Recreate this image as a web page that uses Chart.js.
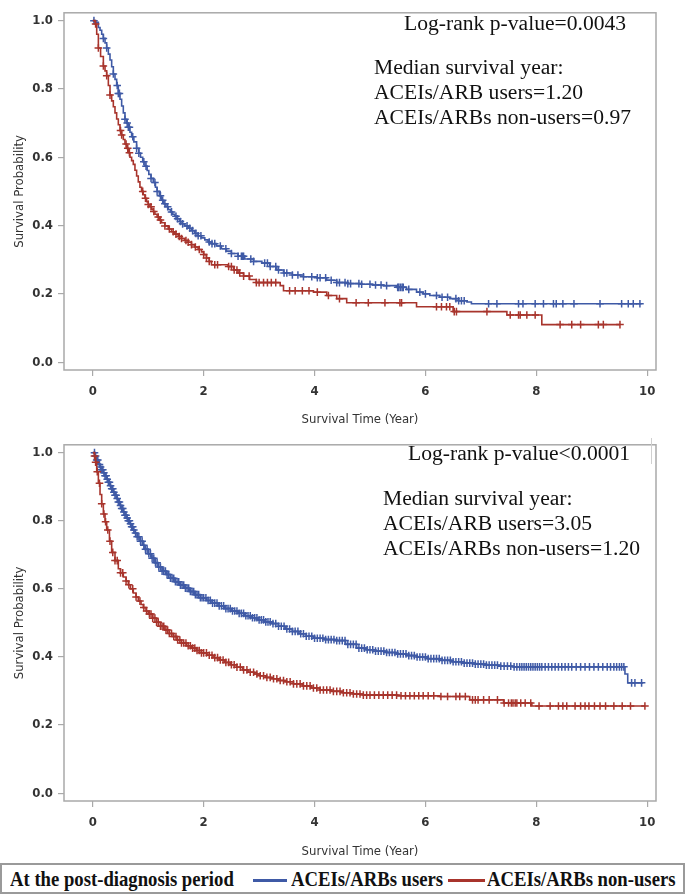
<!DOCTYPE html>
<html>
<head>
<meta charset="utf-8">
<script src="https://cdn.jsdelivr.net/npm/chart.js@4/dist/chart.umd.min.js"></script>
<style>
  html, body { margin:0; padding:0; background:#fff; }
  body { width:685px; height:895px; position:relative; overflow:hidden; }
  .cv { position:absolute; left:0; width:685px; }
  .note { position:absolute; font-family:"Liberation Serif","Times New Roman",serif; font-size:20px; line-height:25px; color:#111; white-space:nowrap; transform:scaleX(1.08); transform-origin:0 50%; }
  #legend { position:absolute; left:0; top:863px; width:685px; height:31px; box-sizing:border-box; border:2px solid #9a9a9a; background:#fff; }
  .lg { position:absolute; top:0px; font-family:"Liberation Serif","Times New Roman",serif; font-weight:bold; font-size:21px; line-height:29px; color:#111; white-space:nowrap; transform:scaleX(0.89); transform-origin:0 50%; }
  .sw { position:absolute; top:14px; height:3px; }
  #tick { position:absolute; left:651px; top:438px; width:1px; height:26px; background:#d0d0d0; }
</style>
</head>
<body>
<div class="cv" style="top:0;height:430px"><canvas id="c1" width="685" height="430"></canvas></div>
<div class="cv" style="top:432px;height:430px"><canvas id="c2" width="685" height="430"></canvas></div>

<div class="note" style="left:404px;top:11px">Log-rank p-value=0.0043</div>
<div class="note" style="left:374px;top:55px">Median survival year:</div>
<div class="note" style="left:374px;top:80px">ACEIs/ARB users=1.20</div>
<div class="note" style="left:374px;top:105px">ACEIs/ARBs non-users=0.97</div>

<div class="note" style="left:408px;top:441px">Log-rank p-value&lt;0.0001</div>
<div id="tick"></div>
<div class="note" style="left:383px;top:486px">Median survival year:</div>
<div class="note" style="left:383px;top:511px">ACEIs/ARB users=3.05</div>
<div class="note" style="left:383px;top:536px">ACEIs/ARBs non-users=1.20</div>

<div id="legend">
  <div class="lg" style="left:8px">At the post-diagnosis period</div>
  <div class="sw" style="left:251px;width:34px;background:#3F5AA6"></div>
  <div class="lg" style="left:289px">ACEIs/ARBs users</div>
  <div class="sw" style="left:446px;width:37px;background:#A8342C"></div>
  <div class="lg" style="left:485px">ACEIs/ARBs non-users</div>
</div>

<script>
// ---------- data ----------
const xTicks = [0, 2, 4, 6, 8, 10];
const yTicks = [0.0, 0.2, 0.4, 0.6, 0.8, 1.0];
const seriesNames = ["ACEIs/ARBs users", "ACEIs/ARBs non-users"];

// Top panel: users (blue) - event times and survival estimates
const topUsersT = [0, 0.05, 0.10, 0.13, 0.16, 0.19, 0.22, 0.25, 0.28, 0.31, 0.34, 0.37, 0.40, 0.43, 0.46, 0.49, 0.52, 0.55, 0.58, 0.61, 0.64, 0.67, 0.70, 0.74, 0.79, 0.83, 0.86, 0.90, 0.94, 0.98, 1.01, 1.05, 1.09, 1.13, 1.16, 1.20, 1.24, 1.28, 1.32, 1.36, 1.40, 1.44, 1.48, 1.52, 1.57, 1.61, 1.66, 1.72, 1.78, 1.84, 1.90, 1.96, 2.02, 2.08, 2.14, 2.23, 2.32, 2.41, 2.50, 2.62, 2.74, 2.90, 3.05, 3.19, 3.32, 3.44, 3.60, 3.80, 4.04, 4.22, 4.40, 4.60, 4.82, 5.04, 5.24, 5.48, 5.66, 5.84, 5.96, 6.08, 6.26, 6.44, 6.60, 6.75, 6.83, 9.90];
const topUsersS = [1.0, 0.995, 0.98, 0.972, 0.96, 0.948, 0.935, 0.92, 0.902, 0.885, 0.865, 0.844, 0.828, 0.81, 0.787, 0.77, 0.75, 0.73, 0.711, 0.70, 0.688, 0.673, 0.66, 0.645, 0.626, 0.612, 0.60, 0.587, 0.574, 0.561, 0.55, 0.538, 0.526, 0.512, 0.50, 0.487, 0.474, 0.464, 0.455, 0.447, 0.44, 0.433, 0.427, 0.42, 0.412, 0.405, 0.399, 0.392, 0.385, 0.377, 0.37, 0.364, 0.358, 0.352, 0.347, 0.34, 0.332, 0.325, 0.318, 0.31, 0.302, 0.295, 0.29, 0.28, 0.27, 0.261, 0.255, 0.25, 0.247, 0.24, 0.233, 0.23, 0.228, 0.226, 0.224, 0.219, 0.213, 0.205, 0.2, 0.195, 0.19, 0.186, 0.18, 0.176, 0.171, 0.171];
const topUsersCensor = [0.02, 0.19, 0.25, 0.37, 0.44, 0.46, 0.48, 0.58, 0.62, 0.64, 0.66, 0.72, 0.79, 0.83, 0.92, 0.96, 1.05, 1.12, 1.16, 1.22, 1.26, 1.30, 1.35, 1.42, 1.50, 1.53, 1.58, 1.62, 1.70, 1.75, 1.80, 1.86, 1.90, 1.95, 2.10, 2.15, 2.20, 2.30, 2.40, 2.50, 2.62, 2.68, 2.70, 2.72, 2.85, 2.90, 3.10, 3.15, 3.20, 3.30, 3.35, 3.45, 3.50, 3.60, 3.70, 3.80, 3.95, 4.05, 4.10, 4.20, 4.30, 4.40, 4.45, 4.55, 4.60, 4.65, 4.80, 4.85, 5.00, 5.10, 5.20, 5.30, 5.50, 5.52, 5.55, 5.58, 5.60, 5.70, 5.90, 6.00, 6.20, 6.30, 6.40, 6.55, 6.60, 6.65, 6.70, 7.14, 7.29, 7.68, 7.76, 7.98, 8.13, 8.31, 8.36, 8.48, 8.68, 9.15, 9.54, 9.66, 9.75, 9.87];

// Top panel: non-users (red)
const topNonT = [0, 0.04, 0.07, 0.10, 0.14, 0.19, 0.22, 0.25, 0.28, 0.31, 0.34, 0.37, 0.40, 0.43, 0.46, 0.49, 0.52, 0.55, 0.58, 0.61, 0.64, 0.67, 0.70, 0.73, 0.76, 0.79, 0.82, 0.85, 0.88, 0.91, 0.94, 0.97, 1.00, 1.03, 1.06, 1.09, 1.12, 1.16, 1.20, 1.24, 1.30, 1.36, 1.42, 1.48, 1.54, 1.60, 1.66, 1.72, 1.78, 1.84, 1.90, 1.96, 2.00, 2.05, 2.10, 2.14, 2.44, 2.54, 2.62, 2.72, 2.83, 2.95, 3.38, 3.44, 3.98, 4.22, 4.40, 4.58, 5.84, 6.50, 7.47, 8.10, 9.51];
const topNonS = [1.0, 0.99, 0.96, 0.92, 0.895, 0.867, 0.853, 0.839, 0.81, 0.782, 0.765, 0.748, 0.73, 0.712, 0.695, 0.678, 0.665, 0.652, 0.639, 0.626, 0.613, 0.60, 0.59, 0.579, 0.562, 0.545, 0.528, 0.512, 0.50, 0.49, 0.48, 0.47, 0.462, 0.455, 0.448, 0.441, 0.433, 0.425, 0.416, 0.408, 0.399, 0.39, 0.382, 0.375, 0.368, 0.362, 0.356, 0.351, 0.344, 0.337, 0.33, 0.323, 0.315, 0.305, 0.295, 0.285, 0.28, 0.27, 0.261, 0.252, 0.242, 0.233, 0.224, 0.209, 0.205, 0.195, 0.186, 0.174, 0.162, 0.148, 0.138, 0.11, 0.11];
const topNonCensor = [0.05, 0.10, 0.19, 0.25, 0.31, 0.50, 0.52, 0.60, 0.63, 0.66, 0.90, 0.95, 1.00, 1.05, 1.10, 1.18, 1.22, 1.30, 1.38, 1.45, 1.50, 1.56, 1.60, 1.68, 1.72, 1.78, 1.85, 1.92, 2.00, 2.05, 2.10, 2.20, 2.25, 2.45, 2.50, 2.55, 2.60, 2.65, 2.72, 2.82, 2.95, 3.00, 3.08, 3.15, 3.22, 3.30, 3.55, 3.65, 3.78, 3.90, 4.05, 4.25, 4.45, 4.75, 4.97, 5.27, 5.54, 5.57, 6.20, 6.29, 6.38, 6.44, 6.52, 6.56, 7.11, 7.53, 7.68, 7.71, 7.83, 7.98, 8.43, 8.64, 8.80, 9.12, 9.21, 9.51];

// Bottom panel: users (blue)
const botUsersT = [0, 0.04, 0.07, 0.10, 0.13, 0.16, 0.19, 0.22, 0.25, 0.28, 0.31, 0.34, 0.37, 0.40, 0.43, 0.46, 0.49, 0.52, 0.55, 0.58, 0.61, 0.64, 0.67, 0.70, 0.73, 0.76, 0.80, 0.85, 0.90, 0.94, 1.00, 1.06, 1.12, 1.18, 1.25, 1.33, 1.40, 1.48, 1.57, 1.66, 1.75, 1.84, 1.94, 2.05, 2.15, 2.26, 2.38, 2.50, 2.62, 2.74, 2.86, 2.98, 3.10, 3.23, 3.35, 3.47, 3.60, 3.72, 3.85, 3.98, 4.18, 4.37, 4.56, 4.76, 4.93, 5.10, 5.30, 5.48, 5.66, 5.85, 6.05, 6.26, 6.46, 6.66, 6.88, 7.10, 7.35, 7.58, 9.60, 9.65, 9.93];
const botUsersS = [1.0, 0.99, 0.978, 0.965, 0.958, 0.95, 0.941, 0.932, 0.922, 0.913, 0.903, 0.894, 0.884, 0.875, 0.865, 0.855, 0.845, 0.836, 0.826, 0.816, 0.808, 0.80, 0.791, 0.782, 0.773, 0.764, 0.753, 0.74, 0.728, 0.716, 0.703, 0.69, 0.677, 0.664, 0.652, 0.642, 0.631, 0.621, 0.611, 0.602, 0.592, 0.583, 0.574, 0.566, 0.558, 0.55, 0.542, 0.535, 0.528, 0.521, 0.515, 0.509, 0.503, 0.498, 0.49, 0.482, 0.475, 0.468, 0.461, 0.455, 0.451, 0.448, 0.437, 0.426, 0.421, 0.417, 0.413, 0.409, 0.404, 0.40, 0.395, 0.39, 0.386, 0.382, 0.379, 0.376, 0.373, 0.371, 0.35, 0.324, 0.324];
const botUsersCensor = [0.03, 0.05, 0.07, 0.09, 0.12, 0.14, 0.16, 0.18, 0.20, 0.22, 0.24, 0.26, 0.28, 0.30, 0.32, 0.34, 0.36, 0.38, 0.40, 0.42, 0.44, 0.46, 0.48, 0.50, 0.52, 0.54, 0.56, 0.58, 0.60, 0.62, 0.64, 0.66, 0.68, 0.70, 0.72, 0.74, 0.77, 0.80, 0.83, 0.86, 0.89, 0.92, 0.95, 0.98, 1.01, 1.04, 1.07, 1.10, 1.13, 1.16, 1.19, 1.22, 1.25, 1.28, 1.31, 1.34, 1.37, 1.40, 1.43, 1.46, 1.49, 1.52, 1.55, 1.58, 1.61, 1.64, 1.67, 1.70, 1.73, 1.76, 1.79, 1.82, 1.85, 1.88, 1.91, 1.94, 1.97, 2.00, 2.04, 2.08, 2.12, 2.16, 2.20, 2.24, 2.28, 2.32, 2.36, 2.40, 2.44, 2.48, 2.52, 2.56, 2.60, 2.64, 2.68, 2.72, 2.76, 2.80, 2.84, 2.88, 2.92, 2.96, 3.00, 3.04, 3.08, 3.12, 3.16, 3.20, 3.25, 3.30, 3.35, 3.40, 3.45, 3.50, 3.55, 3.60, 3.65, 3.70, 3.75, 3.80, 3.85, 3.90, 3.95, 4.00, 4.05, 4.10, 4.15, 4.20, 4.25, 4.30, 4.35, 4.40, 4.45, 4.50, 4.55, 4.60, 4.65, 4.70, 4.75, 4.80, 4.85, 4.90, 4.95, 5.00, 5.05, 5.10, 5.15, 5.20, 5.25, 5.30, 5.35, 5.40, 5.45, 5.50, 5.55, 5.60, 5.65, 5.70, 5.75, 5.80, 5.85, 5.90, 5.95, 6.00, 6.05, 6.10, 6.15, 6.20, 6.25, 6.30, 6.35, 6.40, 6.45, 6.50, 6.55, 6.60, 6.65, 6.70, 6.75, 6.80, 6.85, 6.90, 6.95, 7.00, 7.05, 7.10, 7.15, 7.20, 7.25, 7.30, 7.36, 7.42, 7.48, 7.54, 7.60, 7.65, 7.70, 7.74, 7.78, 7.82, 7.86, 7.90, 7.94, 7.98, 8.02, 8.06, 8.10, 8.16, 8.22, 8.28, 8.34, 8.40, 8.46, 8.52, 8.58, 8.64, 8.72, 8.80, 8.88, 8.96, 9.04, 9.12, 9.20, 9.28, 9.34, 9.40, 9.45, 9.50, 9.54, 9.58, 9.72, 9.78, 9.90];

// Bottom panel: non-users (red)
const botNonT = [0, 0.03, 0.05, 0.07, 0.10, 0.13, 0.16, 0.19, 0.22, 0.25, 0.30, 0.34, 0.40, 0.46, 0.50, 0.55, 0.60, 0.64, 0.68, 0.73, 0.78, 0.82, 0.87, 0.91, 0.96, 1.00, 1.08, 1.15, 1.22, 1.30, 1.38, 1.45, 1.52, 1.60, 1.69, 1.78, 1.87, 1.96, 2.06, 2.17, 2.28, 2.38, 2.48, 2.59, 2.70, 2.80, 2.91, 3.02, 3.12, 3.23, 3.35, 3.47, 3.62, 3.78, 3.94, 4.10, 4.30, 4.50, 4.70, 4.88, 5.50, 6.26, 6.80, 7.41, 7.92, 9.96];
const botNonS = [1.0, 0.99, 0.972, 0.944, 0.91, 0.877, 0.85, 0.82, 0.797, 0.773, 0.74, 0.707, 0.683, 0.659, 0.647, 0.635, 0.623, 0.612, 0.60, 0.588, 0.576, 0.564, 0.554, 0.545, 0.535, 0.526, 0.514, 0.502, 0.49, 0.479, 0.469, 0.46, 0.45, 0.441, 0.433, 0.426, 0.419, 0.412, 0.405, 0.398, 0.391, 0.384, 0.377, 0.37, 0.362, 0.355, 0.35, 0.345, 0.34, 0.336, 0.331, 0.327, 0.321, 0.315, 0.309, 0.303, 0.299, 0.295, 0.291, 0.288, 0.286, 0.284, 0.274, 0.265, 0.256, 0.256];
const botNonCensor = [0.03, 0.05, 0.08, 0.12, 0.16, 0.20, 0.23, 0.27, 0.31, 0.36, 0.40, 0.44, 0.50, 0.54, 0.60, 0.65, 0.72, 0.78, 0.85, 0.92, 0.97, 1.02, 1.05, 1.08, 1.12, 1.15, 1.18, 1.22, 1.25, 1.28, 1.32, 1.35, 1.38, 1.42, 1.46, 1.50, 1.53, 1.57, 1.60, 1.64, 1.68, 1.72, 1.76, 1.80, 1.84, 1.88, 1.92, 1.96, 2.00, 2.05, 2.10, 2.15, 2.20, 2.25, 2.30, 2.35, 2.40, 2.45, 2.50, 2.55, 2.60, 2.66, 2.72, 2.78, 2.84, 2.90, 2.96, 3.02, 3.08, 3.14, 3.20, 3.26, 3.32, 3.38, 3.44, 3.50, 3.56, 3.62, 3.68, 3.74, 3.80, 3.86, 3.92, 3.98, 4.04, 4.10, 4.16, 4.22, 4.28, 4.34, 4.40, 4.46, 4.52, 4.58, 4.64, 4.70, 4.76, 4.82, 4.88, 4.94, 5.00, 5.08, 5.16, 5.24, 5.32, 5.40, 5.48, 5.56, 5.64, 5.72, 5.80, 5.88, 5.96, 6.05, 6.15, 6.28, 6.40, 6.55, 6.62, 6.72, 6.85, 6.90, 6.95, 7.05, 7.15, 7.30, 7.42, 7.50, 7.55, 7.58, 7.62, 7.65, 7.72, 7.80, 7.90, 8.05, 8.25, 8.40, 8.48, 8.55, 8.70, 8.80, 8.88, 8.95, 9.05, 9.15, 9.25, 9.40, 9.55, 9.70, 9.96];

// ---------- rendering ----------
const BLUE = '#3F5AA6', RED = '#A8342C';
const TICK_FONT = '"Liberation Sans Narrow","DejaVu Sans Condensed","DejaVu Sans",sans-serif';

function curve(ts, ss) { return ts.map((t, i) => ({ x: t, y: ss[i] })); }
function stepAt(ts, ss, t) { let v = ss[0]; for (let i = 0; i < ts.length; i++) { if (ts[i] <= t) v = ss[i]; } return v; }
function marks(cs, ts, ss) { return cs.map(t => ({ x: t, y: stepAt(ts, ss, t) })); }

const framePlugin = {
  id: 'frame',
  afterDraw(chart) {
    const a = chart.chartArea, ctx = chart.ctx;
    ctx.save();
    ctx.strokeStyle = '#a9a9a9';
    ctx.lineWidth = 1.5;
    ctx.strokeRect(a.left, a.top, a.right - a.left, a.bottom - a.top);
    ctx.restore();
  }
};

function makeChart(id, uT, uS, uC, nT, nS, nC, xHeight) {
  new Chart(document.getElementById(id), {
    type: 'scatter',
    data: {
      datasets: [
        { label: seriesNames[1] + ' censored', data: marks(nC, nT, nS), showLine: false, pointStyle: 'cross', pointRadius: 3.8, borderColor: RED, borderWidth: 1.5, backgroundColor: RED },
        { label: seriesNames[1], data: curve(nT, nS), showLine: true, stepped: 'before', pointRadius: 0, borderColor: RED, borderWidth: 1.6, fill: false },
        { label: seriesNames[0] + ' censored', data: marks(uC, uT, uS), showLine: false, pointStyle: 'cross', pointRadius: 3.8, borderColor: BLUE, borderWidth: 1.5, backgroundColor: BLUE },
        { label: seriesNames[0], data: curve(uT, uS), showLine: true, stepped: 'before', pointRadius: 0, borderColor: BLUE, borderWidth: 1.6, fill: false }
      ]
    },
    options: {
      responsive: false,
      animation: false,
      layout: { padding: { top: 2, right: 29, left: 0, bottom: 0 } },
      plugins: { legend: { display: false }, tooltip: { enabled: false } },
      scales: {
        x: {
          type: 'linear', min: -0.52, max: 10.16,
          afterBuildTicks: s => { s.ticks = xTicks.map(v => ({ value: v })); },
          afterFit: s => { s.height = xHeight; },
          ticks: { font: { family: TICK_FONT, size: 13, weight: 'bold' }, color: '#333', padding: 8, maxRotation: 0, callback: v => String(v) },
          grid: { drawOnChartArea: false, drawTicks: true, tickLength: 6, color: '#a9a9a9', lineWidth: 1.2 },
          border: { display: false },
          title: { display: true, text: 'Survival Time (Year)', font: { family: TICK_FONT, size: 13 }, color: '#333', padding: { top: 0, bottom: 3 } }
        },
        y: {
          type: 'linear', min: -0.023, max: 1.023,
          afterBuildTicks: s => { s.ticks = yTicks.map(v => ({ value: v })); },
          afterFit: s => { s.width = 64; },
          ticks: { font: { family: TICK_FONT, size: 13, weight: 'bold' }, color: '#333', padding: 5, callback: v => Number(v).toFixed(1) },
          grid: { drawOnChartArea: false, drawTicks: true, tickLength: 6, color: '#a9a9a9', lineWidth: 1.2 },
          border: { display: false },
          title: { display: true, text: 'Survival Probability', font: { family: TICK_FONT, size: 13 }, color: '#333', padding: { top: 12, bottom: 0 } }
        }
      }
    },
    plugins: [framePlugin]
  });
}

makeChart('c1', topUsersT, topUsersS, topUsersCensor, topNonT, topNonS, topNonCensor, 60);
makeChart('c2', botUsersT, botUsersS, botUsersCensor, botNonT, botNonS, botNonCensor, 61);
</script>
</body>
</html>
